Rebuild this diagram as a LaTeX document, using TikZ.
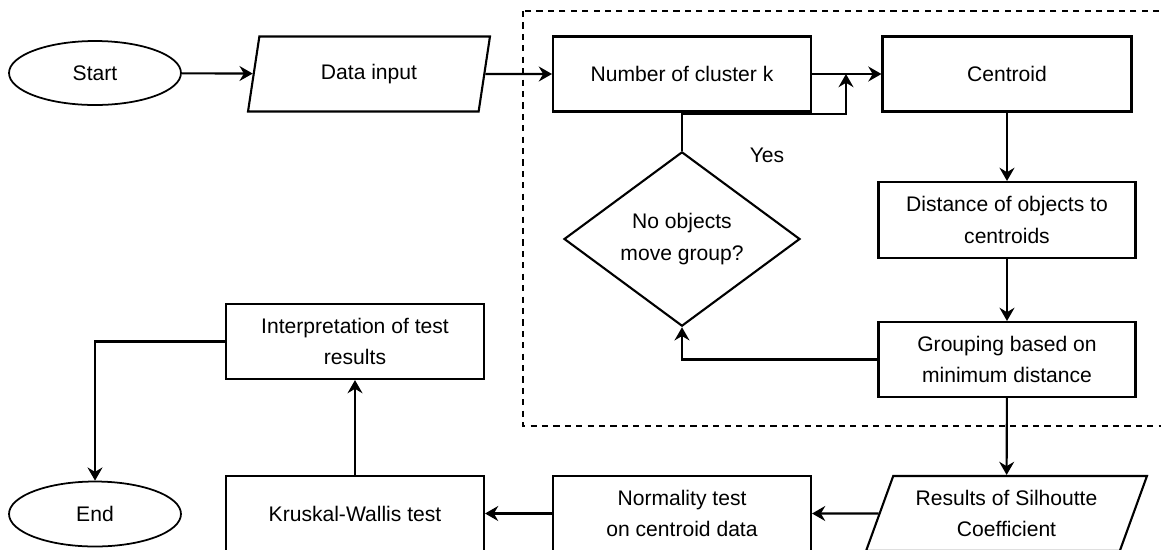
\documentclass[tikz,border=0pt]{standalone}
\usepackage{fontspec}
\setmainfont{Liberation Sans}
\usetikzlibrary{shapes.geometric,arrows.meta}

\begin{document}
\begin{tikzpicture}[x=0.02cm,y=-0.02cm]
            \tikzstyle{every node}+=[inner sep=0pt, align=center, font=\fontsize{12}{18}\selectfont]
            \tikzstyle{term}=[draw, ellipse, line width=1pt, minimum width=3.44cm, minimum height=1.28cm]
            \tikzstyle{proc}=[draw, rectangle, line width=1.2pt, minimum width=5.16cm, minimum height=1.5cm]
            \tikzstyle{io}=[draw, trapezium, trapezium left angle=60, trapezium right angle=120, trapezium stretches body, line width=1.2pt, minimum height=1.5cm]
            \tikzstyle{decision}=[draw, diamond, line width=1.2pt, minimum width=4.72cm, minimum height=2.6cm]
            \tikzstyle{flow}=[draw, line width=1.2pt, -{Stealth[length=7.5pt,width=8.5pt,inset=2.5pt]}]
            \clip (0,0) rectangle (1161,549);
            % loop region
            \draw [line width=1.1pt, dash pattern=on 3.5pt off 3pt] (522.7,11) rectangle (1180,425.7);
            % top row
            \node [term] (start) at (95,73) {Start};
            \node [io, minimum width=4.84cm] (data) at (369,74) {Data input};
            \node [proc] (number) at (682,74) {Number of cluster k};
            \node [proc, minimum width=4.98cm] (centroid) at (1007,74) {Centroid};
            \coordinate (join) at (846,74);
            % k-means loop
            \node [decision] (check) at (682,239) {No objects\\move group?};
            \node (yes) at (767,155) {Yes};
            \node [proc, minimum width=5.14cm, minimum height=1.52cm] (distance) at (1007,220) {Distance of objects to\\centroids};
            \node [proc, minimum width=5.14cm] (grouping) at (1007,359.5) {Grouping based on\\minimum distance};
            % bottom rows
            \node [io, minimum width=5.62cm] (results) at (1006.5,513.5) {Results of Silhoutte\\Coefficient};
            \node [proc] (normality) at (682,513.5) {Normality test\\on centroid data};
            \node [proc] (kruskal) at (355,513.5) {Kruskal-Wallis test};
            \node [proc] (interp) at (355,341.5) {Interpretation of test\\results};
            \node [term, minimum height=1.3cm] (end) at (95,514) {End};
            % connectors
            \draw [flow] (start) -- (data);
            \draw [flow] (data) -- (number);
            \draw [flow] (number) -- (centroid);
            \draw [flow] (check.north) -- ++(0,-37) -| (join);
            \draw [flow] (centroid) -- (distance);
            \draw [flow] (distance) -- (grouping);
            \draw [flow] (grouping.west) -| (check.south);
            \draw [flow] (grouping) -- (results);
            \draw [flow] (results) -- (normality);
            \draw [flow] (normality) -- (kruskal);
            \draw [flow] (kruskal) -- (interp);
            \draw [flow] (interp.west) -| (end.north);
\end{tikzpicture}
\end{document}
